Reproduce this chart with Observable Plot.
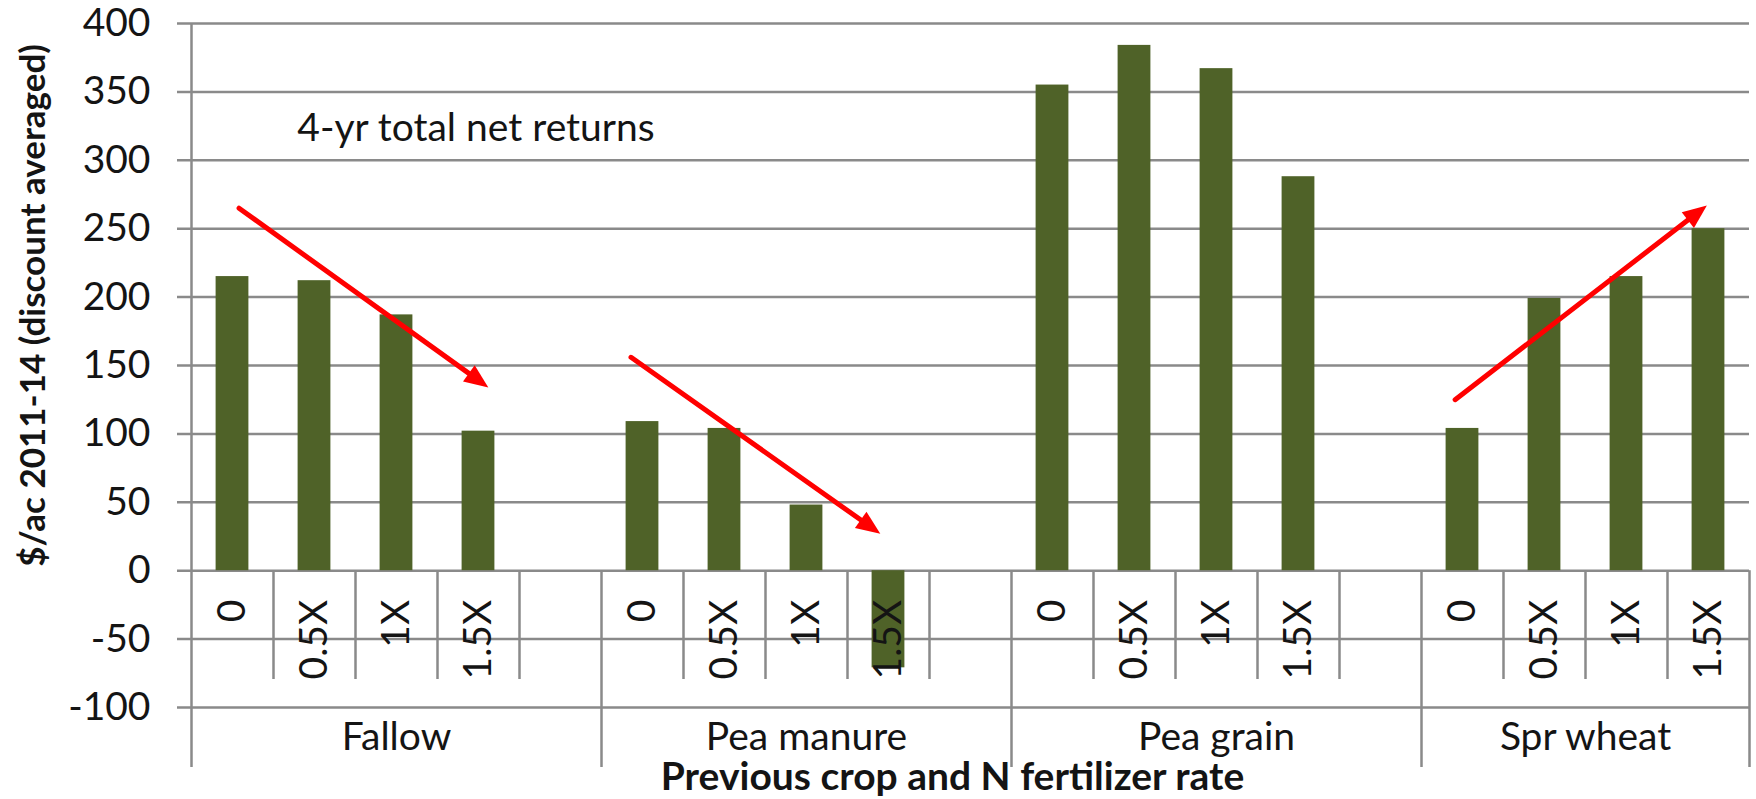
<!DOCTYPE html>
<html>
<head>
<meta charset="utf-8">
<script src="https://cdn.jsdelivr.net/npm/d3@7"></script>
<script src="https://cdn.jsdelivr.net/npm/@observablehq/plot@0.6"></script>
<style>
  html, body { margin: 0; padding: 0; background: #ffffff; }
  #chart svg { display: block; }
</style>
</head>
<body>
<div id="chart"></div>
<script>
// ---- data ----
const crops = ["Fallow", "Pea manure", "Pea grain", "Spr wheat"];
const rates = ["0", "0.5X", "1X", "1.5X"];
const fallow    = [215, 212, 187, 102];
const peaManure = [109, 104, 48, -71];
const peaGrain  = [355, 384, 367, 288];
const sprWheat  = [104, 199, 215, 250];
const yTicks = [-100, -50, 0, 50, 100, 150, 200, 250, 300, 350, 400];
const yTitle = "$/ac 2011-14 (discount averaged)";
const xTitle = "Previous crop and N fertilizer rate";
const noteText = ["4-yr total net returns"];
const noteSlot = [1.29];
const noteValue = [323];
// trend arrows: start/end in category-slot units and $/ac
const arrowSlot1 = [0.58, 5.36, 15.41];
const arrowVal1  = [265, 156, 125];
const arrowSlot2 = [3.62, 8.40, 18.48];
const arrowVal2  = [134, 27, 267];

// ---- layout ----
const W = 1756, H = 799;
const mL = 191, mR = 7, mT = 23, mB = 92;

// ---- build tables ----
const series = [fallow, peaManure, peaGrain, sprWheat];
const per = rates.length + 1;                  // each crop block + one empty slot
const nSlots = crops.length * per - 1;         // no empty slot after the last block
const rows = [];
crops.forEach((c, g) => rates.forEach((r, k) => rows.push({crop: c, rate: r, value: series[g][k], i: g * per + k})));
const blockStart = crops.map((c, g) => g * per);
const blockEnd = crops.map((c, g) => Math.min((g + 1) * per, nSlots));
const groupEdges = [...blockStart.slice(1), nSlots];
const subEdges = [];
crops.forEach((c, g) => { for (let e = blockStart[g] + 1; e < blockEnd[g]; e++) subEdges.push(e); });
const cropLabels = crops.map((c, g) => ({crop: c, mid: (blockStart[g] + blockEnd[g]) / 2}));
const notes = noteText.map((t, j) => ({text: t, slot: noteSlot[j], value: noteValue[j]}));
const yMin = d3.min(yTicks), yMax = d3.max(yTicks);

// screen-space direction of each arrow, via Plot's own scales
const xs = Plot.scale({x: {domain: [0, nSlots], range: [mL, W - mR]}});
const ys = Plot.scale({y: {domain: [yMin, yMax], range: [H - mB, mT]}});
const arrows = arrowSlot1.map((s, j) => {
  const dx = xs.apply(arrowSlot2[j]) - xs.apply(s);
  const dy = ys.apply(arrowVal2[j]) - ys.apply(arrowVal1[j]);
  return {x1: s, y1: arrowVal1[j], x2: arrowSlot2[j], y2: arrowVal2[j], angle: Math.atan2(dx, -dy) * 180 / Math.PI};
});

const grid = "#8a8a8a";
const ink = "#141414";
const red = "#ff0000";

const chart = Plot.plot({
  width: W,
  height: H,
  marginLeft: mL,
  marginRight: mR,
  marginTop: mT,
  marginBottom: mB,
  style: {fontFamily: "Lato, 'Open Sans', sans-serif", fontSize: "39px", color: ink, background: "#ffffff"},
  x: {domain: [0, nSlots], axis: null},
  y: {domain: [yMin, yMax], axis: null},
  marks: [
    Plot.ruleY(yTicks, {stroke: grid, strokeWidth: 2.5, insetLeft: -14}),
    Plot.rect(rows, {x1: d => d.i + 0.3, x2: d => d.i + 0.7, y1: 0, y2: "value", fill: "#4F6228"}),
    Plot.ruleX([0], {stroke: grid, strokeWidth: 2.5, insetBottom: -60}),
    Plot.ruleX(groupEdges, {y1: 0, y2: yMin, stroke: grid, strokeWidth: 2.5, insetBottom: -60}),
    Plot.ruleX(subEdges, {y1: 0, y2: yMin, stroke: grid, strokeWidth: 2.5, insetBottom: 28}),
    Plot.text(yTicks, {x: 0, y: d => d, text: d => String(d), textAnchor: "end", dx: -41, fill: ink}),
    Plot.text(rows, {x: d => d.i + 0.5, y: 0, text: "rate", rotate: -90, textAnchor: "end", dy: 29, fill: ink}),
    Plot.text(cropLabels, {x: "mid", frameAnchor: "bottom", lineAnchor: "middle", dy: 30, text: "crop", fill: ink}),
    Plot.text(notes, {x: "slot", y: "value", text: "text", textAnchor: "start", fill: ink}),
    Plot.arrow(arrows, {x1: "x1", y1: "y1", x2: "x2", y2: "y2", stroke: red, strokeWidth: 5, headLength: 0, insetEnd: 12}),
    Plot.vector(arrows, {x: "x2", y: "y2", rotate: "angle", length: 24, anchor: "end", shape: "spike", r: 10, fill: red, stroke: "none"}),
    Plot.text([yTitle], {frameAnchor: "left", textAnchor: "middle", lineAnchor: "middle", rotate: -90, dx: -158, dy: -60, fontWeight: "bold", fontSize: 35, fill: ink}),
    Plot.text([xTitle], {frameAnchor: "bottom", textAnchor: "middle", lineAnchor: "middle", dx: -18, dy: 70, fontWeight: "bold", fontSize: 39, fill: ink})
  ]
});
document.getElementById("chart").appendChild(chart);
</script>
</body>
</html>
